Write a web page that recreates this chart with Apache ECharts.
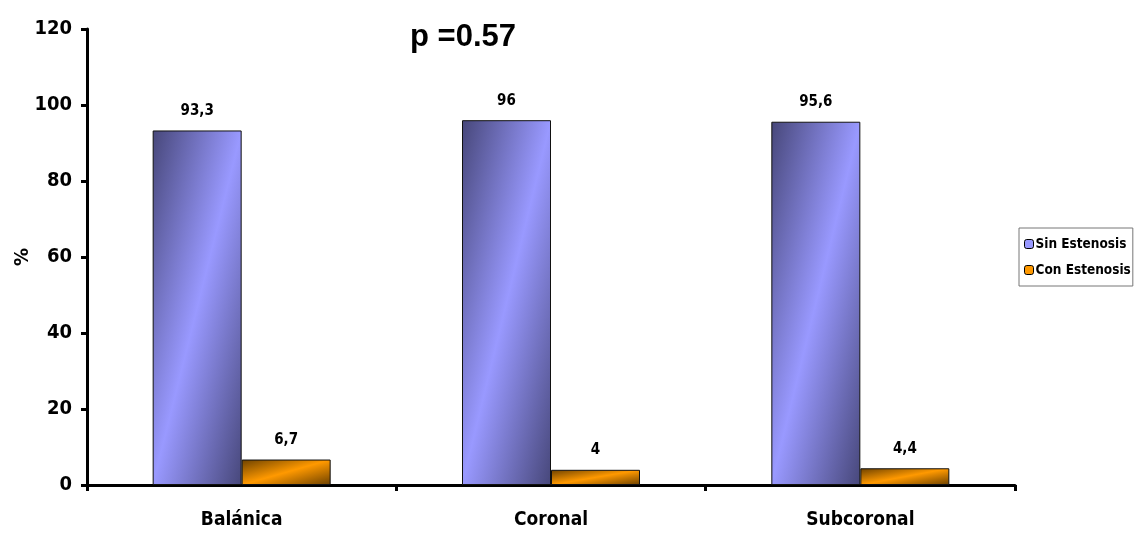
<!DOCTYPE html>
<html><head><meta charset="utf-8">
<script src="https://cdn.jsdelivr.net/npm/echarts@6/dist/echarts.min.js"></script>
<style>html,body{margin:0;padding:0;background:#fff}#c{width:1134px;height:534px}</style>
</head><body><div id="c"></div>
<script>
const categories = ['Balánica', 'Coronal', 'Subcoronal'];
const sinEstenosis = [93.3, 96, 95.6];
const conEstenosis = [6.7, 4, 4.4];
const seriesNames = ['Sin Estenosis', 'Con Estenosis'];
const yTicks = [0, 20, 40, 60, 80, 100, 120];
const titleText = 'p =0.57';

const FONT = '"DejaVu Sans Condensed", "Liberation Sans Narrow", "Liberation Sans", Arial, sans-serif';
const chart = echarts.init(document.getElementById('c'));

function fmt(v){ return String(v).replace('.', ','); }

function grad(w, h, dark, light){
  const L2 = w*w + h*h;
  const dx = h*h/L2, dy = w*w/L2;
  return new echarts.graphic.LinearGradient(0.5-dx, 0.5-dy, 0.5+dx, 0.5+dy, [
    {offset:0, color:dark},{offset:0.5, color:light},{offset:1, color:dark}
  ]);
}

const plotH = 534 - 29 - 49;
const barW = 89;
function styled(vals, dark, light){
  return vals.map(v => ({value:v, itemStyle:{color: grad(barW, Math.max(v*plotH/yTicks[yTicks.length-1],1), dark, light)}}));
}

const labelStyle = {show:true, position:'top', distance:12, fontFamily:FONT, fontWeight:'bold', fontSize:15, color:'#000', formatter:p=>fmt(p.value)};

chart.setOption({
  animation:false,
  title:{text:titleText, left:405, top:17, textStyle:{fontFamily:'"Liberation Sans", Arial, sans-serif', fontWeight:'bold', fontSize:31, color:'#000'}},
  legend:{
    orient:'vertical', left:1019, top:228, itemWidth:9, itemHeight:9, itemGap:12,
    padding:[9,2,9,5], borderColor:'#777', borderWidth:1,
    textStyle:{fontFamily:FONT, fontWeight:'bold', fontSize:13.5, color:'#000', padding:[0,0,0,-3]},
    data:[
      {name:seriesNames[0], itemStyle:{color:'#9999ff', borderColor:'#000', borderWidth:1}},
      {name:seriesNames[1], itemStyle:{color:'#ff9900', borderColor:'#000', borderWidth:1}}
    ]
  },
  grid:{left:87, right:119, top:29, bottom:49, outerBoundsMode:'none', containLabel:false},
  xAxis:{
    type:'category', data:categories,
    axisLine:{lineStyle:{color:'#000', width:3}},
    axisTick:{show:true, length:6, lineStyle:{color:'#000', width:3}},
    axisLabel:{fontFamily:FONT, fontWeight:'bold', fontSize:19, color:'#000', margin:26}
  },
  yAxis:{
    type:'value', min:0, max:120, interval:20,
    name:'%', nameLocation:'middle', nameGap:54, nameRotate:90, nameMoveOverlap:false,
    nameTextStyle:{fontFamily:FONT, fontWeight:'bold', fontSize:20, color:'#000'},
    axisLine:{show:true, lineStyle:{color:'#000', width:3}},
    axisTick:{show:true, length:6, lineStyle:{color:'#000', width:3}},
    splitLine:{show:false},
    axisLabel:{fontFamily:FONT, fontWeight:'bold', fontSize:20, color:'#000', margin:15}
  },
  series:[
    {name:seriesNames[0], type:'bar', data:styled(sinEstenosis,'#47477a','#9999ff'), barWidth:barW, barGap:'0%',
     itemStyle:{borderColor:'#111', borderWidth:1}, label:labelStyle},
    {name:seriesNames[1], type:'bar', data:styled(conEstenosis,'#6b4000','#ff9900'), barWidth:barW, barGap:'0%',
     itemStyle:{borderColor:'#111', borderWidth:1}, label:labelStyle}
  ]
});
</script></body></html>
